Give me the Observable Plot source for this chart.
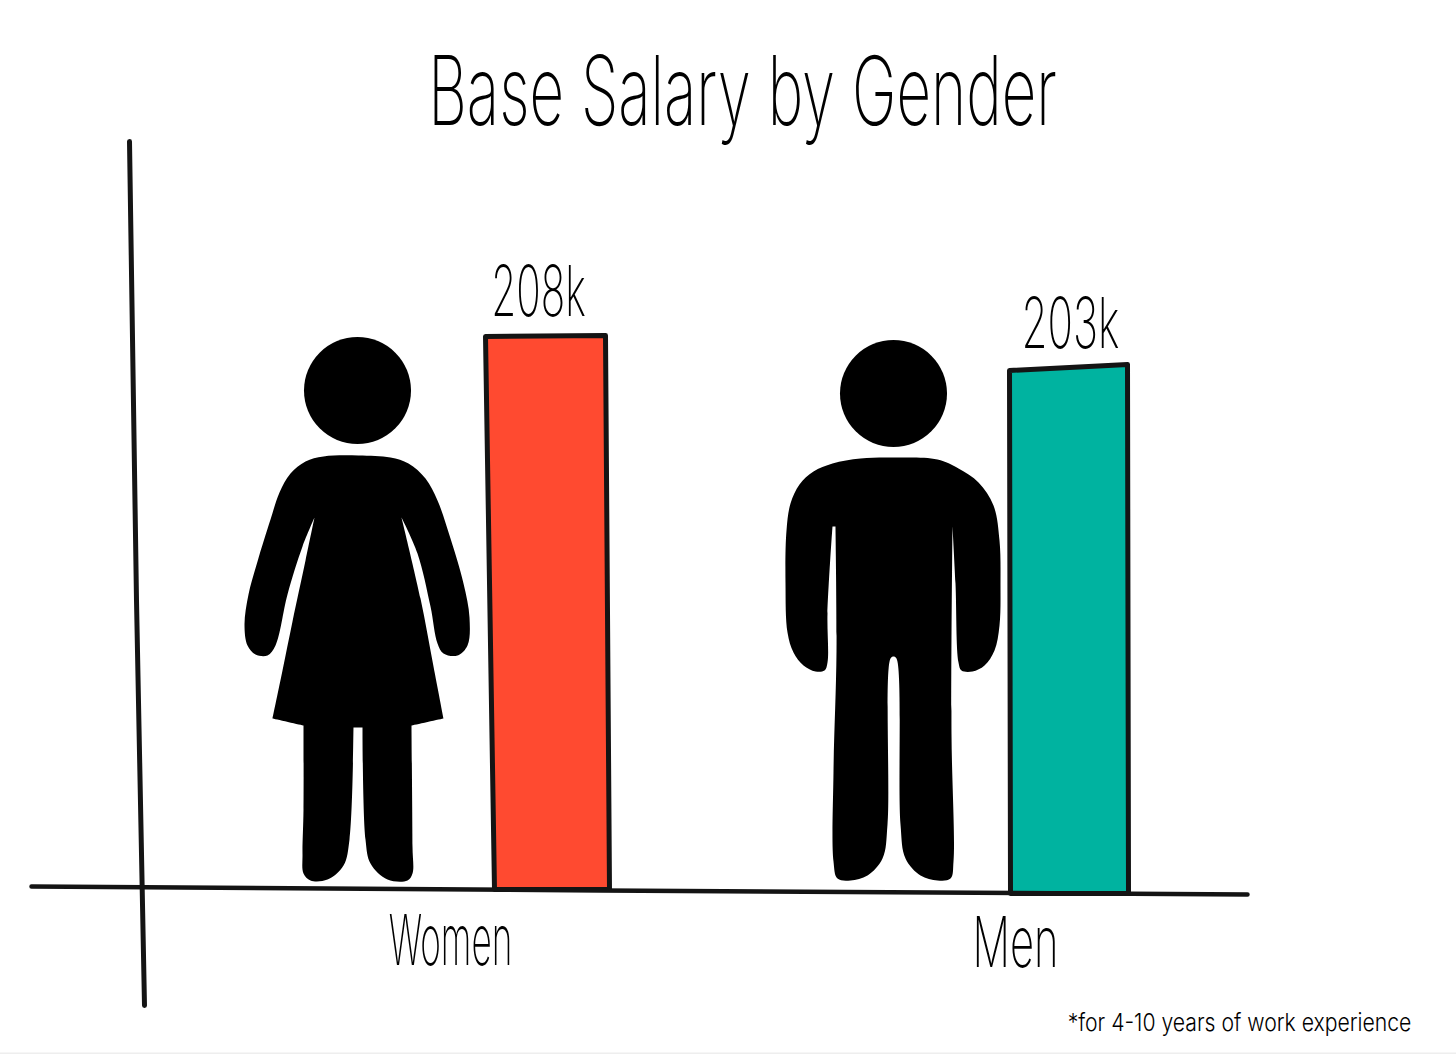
<!DOCTYPE html>
<html><head><meta charset="utf-8">
<script src="https://cdn.jsdelivr.net/npm/d3@7"></script>
<script src="https://cdn.jsdelivr.net/npm/@observablehq/plot@0.6"></script>
<style>html,body{margin:0;padding:0;background:#fff}svg{display:block}</style>
</head><body><div id="chart"></div>
<script>
const titleText = "Base Salary by Gender";
const captionText = "*for 4-10 years of work experience";
const categories = ["Women", "Men"];
const salaryLabels = ["208k", "203k"];
const barColors = ["#ff4a30", "#00b3a0"];

const pxPerK = 555 / 208;
const toK = p => (890 - p) / pxPerK;

// sketch outlines: [x, vertical position on the page]
const womanHead = [357, 390];
const manHead = [893, 393];
const womanOutline = [[358,455],[323,456],[305,461],[290,473],[279,492],[270,519],[257,561],[248,594],[244,624],[247,645],[255,654],[267,655],[275,645],[287,594],[302,546],[314,517],[314,517],[305,560],[292,621],[282,670],[272,718],[272,718],[303,725],[303,725],[303,809],[302,854],[303,873],[310,880],[327,879],[343,865],[349,839],[353,727],[353,727],[362,727],[362,727],[365,839],[370,863],[387,879],[407,880],[412,873],[412,846],[411,725],[411,725],[443,718],[443,718],[433,666],[420,598],[401,517],[401,517],[417,553],[430,606],[437,643],[443,653],[457,655],[467,645],[469,617],[463,583],[450,538],[437,500],[425,478],[408,463],[390,457]];
const manOutline = [[893,457],[860,458],[832,463],[813,471],[799,484],[790,503],[786,530],[785,583],[787,632],[793,652],[803,665],[815,671],[824,670],[827,662],[827,613],[832,526],[832,526],[835,526],[835,526],[836,651],[833,771],[833,861],[837,878],[850,880],[867,875],[882,858],[887,824],[890,658],[893,656],[896,658],[900,824],[905,858],[920,875],[937,880],[950,878],[953,861],[951,733],[952,526],[952,526],[955,583],[958,662],[961,670],[972,671],[984,665],[994,650],[999,625],[1000,583],[999,540],[993,505],[978,482],[958,468],[937,459]];
const womenBarEdge = [[494,889],[485,336],[605,335],[609,889]];
const menBarEdge = [[1010,893],[1009,370],[1127,364],[1128,893]];
const xAxisLine = [[31,886],[600,890],[1247,894]];
const yAxisLine = [[129,141],[136,600],[144,1005]];

const pts = (arr, name) => arr.map(([x, p]) => ({x, y: toK(p), name}));
const bars = [...pts(womenBarEdge, categories[0]), ...pts(menBarEdge, categories[1])];
const shapes = [...pts(womanOutline, "woman"), ...pts(manOutline, "man")];
const heads = [womanHead, manHead].map(([x, p]) => ({x, y: toK(p)}));
const inkFont = "Inter";

const chart = Plot.plot({
  width: 1456, height: 1054,
  marginTop: 0, marginRight: 0, marginBottom: 0, marginLeft: 0,
  x: {domain: [0, 1456], range: [0, 1456], axis: null},
  y: {domain: [toK(1054), toK(0)], range: [1054, 0], axis: null},
  color: {domain: categories, range: barColors},
  style: {background: "#fff"},
  marks: [
    Plot.ruleY([toK(1053)], {stroke: "#eeeeee", strokeWidth: 2}),
    Plot.line(shapes, {x: "x", y: "y", z: "name", fill: "#000", stroke: "none", curve: "catmull-rom-closed"}),
    Plot.dot(heads, {x: "x", y: "y", r: 53.5, fill: "#000"}),
    Plot.line(bars, {x: "x", y: "y", z: "name", fill: "name", stroke: "#141414", strokeWidth: 5, curve: "linear-closed"}),
    Plot.line(pts(xAxisLine, "x"), {x: "x", y: "y", stroke: "#141414", strokeWidth: 4.5}),
    Plot.line(pts(yAxisLine, "y"), {x: "x", y: "y", stroke: "#141414", strokeWidth: 5}),
    Plot.text([titleText], {x: [742], y: [toK(124)], text: d => d, fontFamily: inkFont, fontWeight: 200, fontSize: 66, lineAnchor: "bottom", fill: "#000"}),
    Plot.text(salaryLabels, {x: [538, 1070], y: [toK(315), toK(347)], text: d => d, fontFamily: inkFont, fontWeight: 200, fontSize: 54, lineAnchor: "bottom", fill: "#000"}),
    Plot.text(categories, {x: [450, 1015], y: [toK(964), toK(966)], text: d => d, fontFamily: inkFont, fontWeight: 200, fontSize: 44, lineAnchor: "bottom", fill: "#000"}),
    Plot.text([captionText], {x: [1239], y: [toK(1030)], text: d => d, fontFamily: inkFont, fontWeight: 300, fontSize: 20, lineAnchor: "bottom", fill: "#000"})
  ]
});
// the hand lettering is narrow and tall: stretch the real text to the same proportions
const stretch = {[titleText]: [0.91, 1.45], "208k": [0.75, 1.3], "203k": [0.78, 1.3], Women: [0.8, 1.6], Men: [0.95, 1.6], [captionText]: [1.06, 1.2]};
d3.select(chart).selectAll("text").each(function () {
  const s = stretch[this.textContent];
  if (!s) return;
  const el = d3.select(this);
  el.attr("transform", `${el.attr("transform") || ""} scale(${s[0]},${s[1]})`);
});
document.getElementById("chart").append(chart);
</script></body></html>
